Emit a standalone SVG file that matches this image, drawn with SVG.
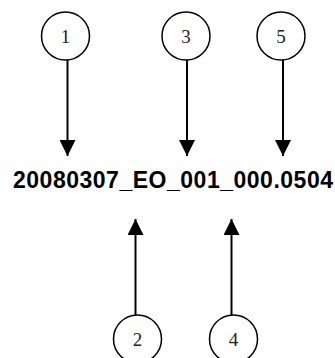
<svg xmlns="http://www.w3.org/2000/svg" width="335" height="358" viewBox="0 0 335 358">
<defs>
<style>
.c{fill:#fff;stroke:#000;stroke-width:1.5}
.n{font-family:"Liberation Serif","Times New Roman",serif;font-size:19px;fill:#222;text-anchor:middle}
.l{stroke:#000;stroke-width:2;fill:none;marker-end:url(#ah)}
.t{font-family:"Liberation Sans",Arial,sans-serif;font-size:23px;font-weight:bold;fill:#000}
</style>
<marker id="ah" markerUnits="userSpaceOnUse" markerWidth="16" markerHeight="16" viewBox="0 0 16 16" refX="16" refY="8" orient="auto">
<path d="M0,0 L16,8 L0,16 Z" fill="#000"/>
</marker>
</defs>
<rect width="335" height="358" fill="#fff"/>
<g id="connectors">
<line class="l" x1="67.5" y1="60" x2="67.5" y2="156"/>
<line class="l" x1="187" y1="60" x2="187" y2="156"/>
<line class="l" x1="283" y1="60" x2="283" y2="156"/>
<line class="l" x1="135.5" y1="315" x2="135.5" y2="219"/>
<line class="l" x1="231.5" y1="315" x2="231.5" y2="219"/>
</g>
<g id="n1"><circle class="c" cx="65.5" cy="36" r="24"/><text class="n" x="65.5" y="43">1</text></g>
<g id="n3"><circle class="c" cx="186" cy="36" r="24"/><text class="n" x="186" y="43">3</text></g>
<g id="n5"><circle class="c" cx="281" cy="36" r="24"/><text class="n" x="281" y="43">5</text></g>
<g id="n2"><circle class="c" cx="137.5" cy="339" r="24"/><text class="n" x="137.5" y="346">2</text></g>
<g id="n4"><circle class="c" cx="233.5" cy="339" r="24"/><text class="n" x="233.5" y="346">4</text></g>
<g id="label"><text class="t" x="13" y="188" textLength="320" lengthAdjust="spacing">20080307_EO_001_000.0504</text></g>
</svg>
